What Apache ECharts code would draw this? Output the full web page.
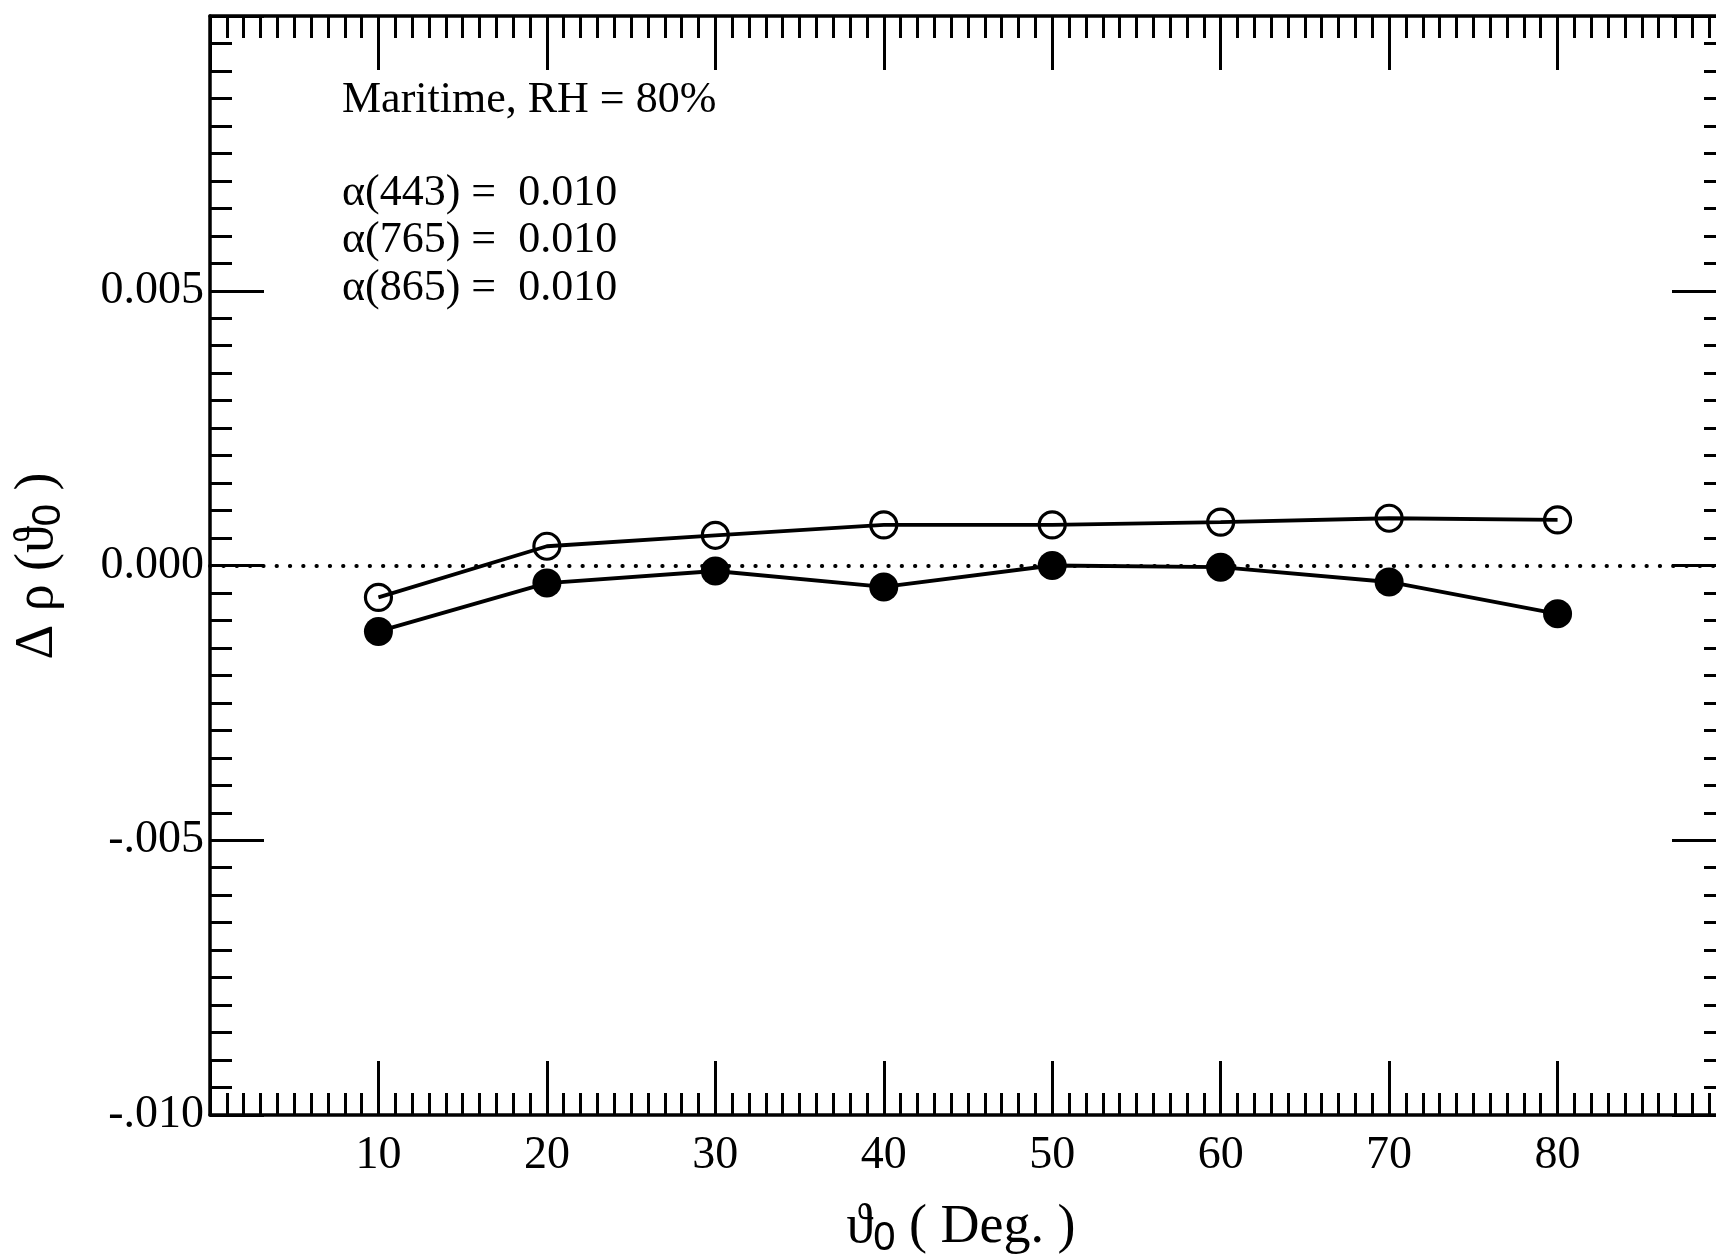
<!DOCTYPE html>
<html><head><meta charset="utf-8">
<script src="https://cdn.jsdelivr.net/npm/echarts@6/dist/echarts.min.js"></script>
<style>html,body{margin:0;padding:0;background:#fff}#c{width:1716px;height:1255px}</style>
</head><body><div id="c"></div>
<script>
// ---- data ----
const angles = [10, 20, 30, 40, 50, 60, 70, 80];
const openValues = [-0.00058, 0.00035, 0.00055, 0.00074, 0.00074, 0.00079, 0.00086, 0.00083];
const filledValues = [-0.0012, -0.00032, -0.0001, -0.00039, 0.0, -0.00003, -0.0003, -0.00088];
const xTickLabels = ['10', '20', '30', '40', '50', '60', '70', '80'];
const yTickValues = [-10, -5, 0, 5];            // in units of 0.001
const yTickLabels = ['-.010', '-.005', '0.000', '0.005'];
const annotationTitle = 'Maritime, RH = 80%';
const annotationLines = ['α(443) =  0.010', 'α(765) =  0.010', 'α(865) =  0.010'];

const SERIF = '"Liberation Serif", "Times New Roman", serif';
const SANS = '"Liberation Sans", Arial, sans-serif';

function xAxisCfg(pos, showLabel) {
  return {
    type: 'value', position: pos, min: 0, max: 90, interval: 10,
    axisLine: { show: true, onZero: false, lineStyle: { color: '#000', width: 3.5 } },
    axisTick: { show: true, inside: true, length: 54, lineStyle: { color: '#000', width: 3 } },
    minorTick: { show: true, splitNumber: 10, length: 22, lineStyle: { color: '#000', width: 3 } },
    splitLine: { show: false }, minorSplitLine: { show: false },
    axisLabel: {
      show: showLabel, margin: 18, color: '#000', fontFamily: SERIF, fontSize: 46,
      formatter: v => { const i = xTickLabels.indexOf(String(Math.round(v))); return i >= 0 ? xTickLabels[i] : ''; }
    }
  };
}
function yAxisCfg(pos, showLabel) {
  return {
    type: 'value', position: pos, min: -0.01, max: 0.01, interval: 0.005,
    axisLine: { show: true, onZero: false, lineStyle: { color: '#000', width: 3.5 } },
    axisTick: { show: true, inside: true, length: 54, lineStyle: { color: '#000', width: 3 } },
    minorTick: { show: true, splitNumber: 10, length: 22, lineStyle: { color: '#000', width: 3 } },
    splitLine: { show: false }, minorSplitLine: { show: false },
    axisLabel: {
      show: showLabel, margin: 6, color: '#000', fontFamily: SERIF, fontSize: 46,
      formatter: v => { const i = yTickValues.indexOf(Math.round(v * 1000)); return i >= 0 ? yTickLabels[i] : ''; }
    }
  };
}

const chart = echarts.init(document.getElementById('c'), null, { renderer: 'canvas' });
const graphics = [
  { type: 'text', x: 342, y: 100, style: { text: annotationTitle, font: '44px ' + SERIF, fill: '#000', align: 'left', verticalAlign: 'middle' } }
];
annotationLines.forEach((t, i) => {
  graphics.push({ type: 'text', x: 342, y: 193 + i * 47.5, style: { text: t, font: '44px ' + SERIF, fill: '#000', align: 'left', verticalAlign: 'middle' } });
});
graphics.push({
  type: 'text', x: 961, y: 1228,
  style: {
    text: '{a|ϑ}{s|0}{a| ( Deg. )}', align: 'center', verticalAlign: 'middle', fill: '#000',
    rich: {
      a: { fontFamily: SERIF, fontSize: 54, lineHeight: 62, color: '#000' },
      s: { fontFamily: SANS, fontSize: 40, lineHeight: 34, verticalAlign: 'bottom', color: '#000' }
    }
  }
});
graphics.push({
  type: 'text', x: 38, y: 566, rotation: Math.PI / 2,
  style: {
    text: '{a|Δ ρ (ϑ}{s|0}{a| )}', align: 'center', verticalAlign: 'middle', fill: '#000',
    rich: {
      a: { fontFamily: SERIF, fontSize: 54, lineHeight: 62, color: '#000' },
      s: { fontFamily: SANS, fontSize: 40, lineHeight: 34, verticalAlign: 'bottom', color: '#000' }
    }
  }
});

chart.setOption({
  animation: false,
  backgroundColor: '#fff',
  grid: { left: 210, top: 16, right: -10, bottom: 140, containLabel: false, outerBoundsMode: 'none' },
  xAxis: [xAxisCfg('bottom', true), xAxisCfg('top', false)],
  yAxis: [yAxisCfg('left', true), yAxisCfg('right', false)],
  graphic: graphics,
  series: [
    {
      type: 'line', data: [], z: 1, silent: true,
      markLine: {
        silent: true, symbol: ['none', 'none'], label: { show: false },
        lineStyle: { color: '#000', width: 3.8, type: [0.5, 12.8], cap: 'round' },
        data: [{ yAxis: 0 }]
      }
    },
    {
      type: 'line', z: 3, data: angles.map((a, i) => [a, openValues[i]]),
      symbol: 'circle', symbolSize: 26,
      itemStyle: { color: 'rgba(0,0,0,0)', borderColor: '#000', borderWidth: 3.2 },
      lineStyle: { color: '#000', width: 3.8 }
    },
    {
      type: 'line', z: 4, data: angles.map((a, i) => [a, filledValues[i]]),
      symbol: 'circle', symbolSize: 29,
      itemStyle: { color: '#000', borderWidth: 0 },
      lineStyle: { color: '#000', width: 3.8 }
    }
  ]
});
</script></body></html>
